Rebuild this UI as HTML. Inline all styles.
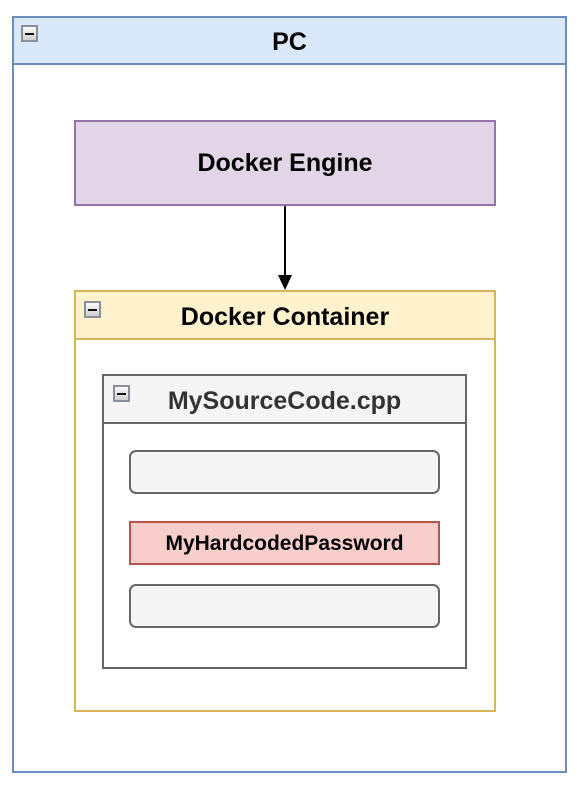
<!DOCTYPE html>
<html><head><style>
body{margin:0;width:585px;height:788px;background:#fff;position:relative;font-family:"Liberation Sans",sans-serif;font-weight:bold;}
div{position:absolute;box-sizing:border-box;}
.t{display:flex;align-items:center;justify-content:center;}
.ic{width:17px;height:17px;border:2px solid #8a8f99;background:linear-gradient(#fafafa,#cfcfcf);}
.ic::after{content:"";position:absolute;left:2px;right:2px;top:5.5px;height:2px;background:#111;}
</style></head><body>
<div style="left:12px;top:16px;width:555px;height:757px;border:2px solid #6c8ebf;"></div>
<div class="t" style="left:12px;top:16px;width:555px;height:49px;border:2px solid #6c8ebf;background:#dae8fc;font-size:25px;padding-top:3px;">PC</div>
<div class="ic" style="left:21px;top:25px;"></div>

<div class="t" style="left:74px;top:120px;width:422px;height:86px;border:2px solid #9673a6;background:#e1d5e7;font-size:25px;">Docker Engine</div>
<svg style="position:absolute;left:0;top:0" width="585" height="788"><line x1="285" y1="206" x2="285" y2="278" stroke="#000" stroke-width="2"/><polygon points="278,275 285,290 292,275" fill="#000"/></svg>

<div style="left:74px;top:290px;width:422px;height:422px;border:2px solid #d6b656;"></div>
<div class="t" style="left:74px;top:290px;width:422px;height:50px;border:2px solid #d6b656;background:#fff2cc;font-size:25px;padding-top:4px;">Docker Container</div>
<div class="ic" style="left:84px;top:301px;"></div>

<div style="left:102px;top:374px;width:365px;height:295px;border:2px solid #666;"></div>
<div class="t" style="left:102px;top:374px;width:365px;height:50px;border:2px solid #666;background:#f5f5f5;font-size:25px;color:#333;padding-top:4px;">MySourceCode.cpp</div>
<div class="ic" style="left:113px;top:385px;"></div>

<div style="left:129px;top:450px;width:311px;height:44px;border:2px solid #666;border-radius:7px;background:#f5f5f5;"></div>
<div class="t" style="left:129px;top:521px;width:311px;height:44px;border:2px solid #b85450;background:#f8cecc;font-size:21px;padding-top:2px;">MyHardcodedPassword</div>
<div style="left:129px;top:584px;width:311px;height:44px;border:2px solid #666;border-radius:7px;background:#f5f5f5;"></div>
</body></html>
